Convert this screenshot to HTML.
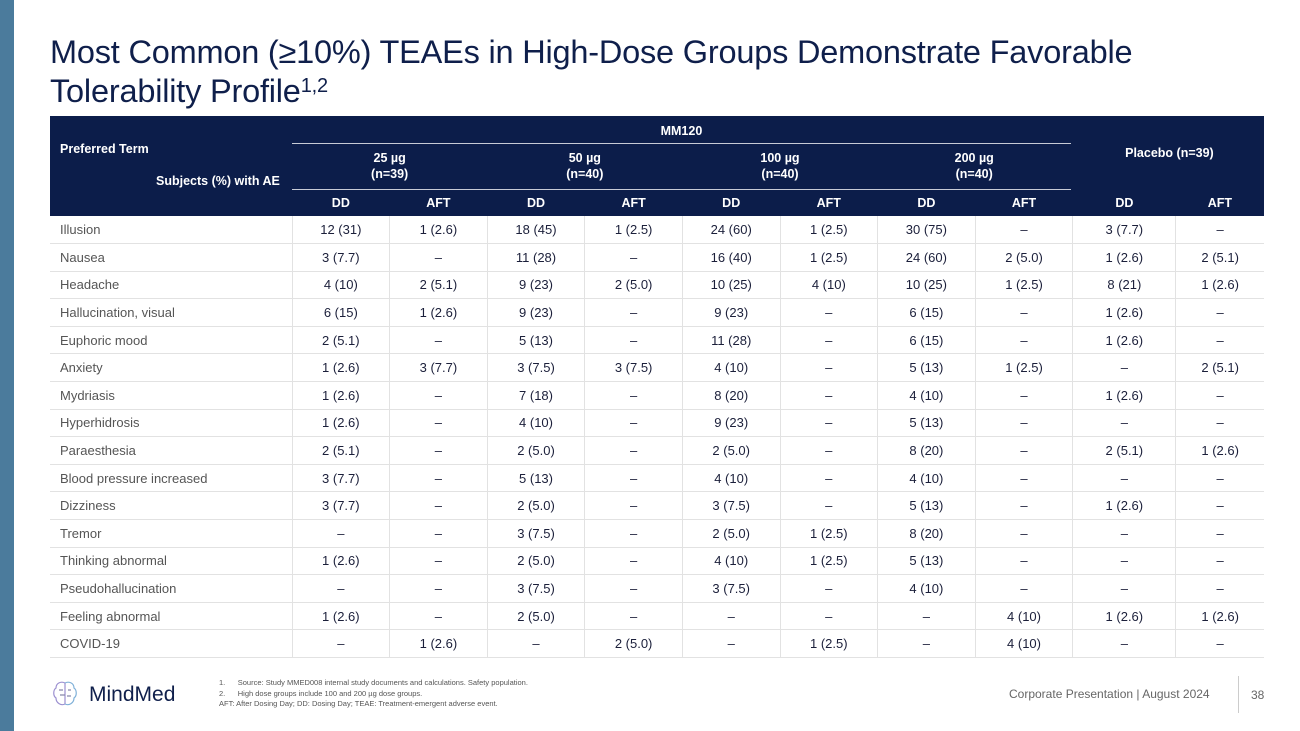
<!DOCTYPE html>
<html><head><meta charset="utf-8"><style>
*{margin:0;padding:0;box-sizing:border-box}
body{width:1300px;height:731px;position:relative;background:#fff;font-family:"Liberation Sans",sans-serif;overflow:hidden}
#bar{position:absolute;left:0;top:0;width:14px;height:731px;background:#4b7b9c}
h1{position:absolute;left:50px;top:33px;font-size:32.5px;font-weight:normal;color:#0f1f4b;line-height:39px;letter-spacing:-0.2px}
h1 sup{font-size:20px;vertical-align:10px;line-height:0}
table{position:absolute;left:50px;top:116px;width:1214px;border-collapse:collapse;table-layout:fixed}
th{background:#0c1d4a;color:#fff;font-size:12.5px;font-weight:bold;text-align:center;padding:0}
td{font-size:13px;color:#1b1f3a;text-align:center;height:27.6px;border-bottom:1.5px solid #e2e2e2;border-left:1px solid #e2e2e2;padding:0}
td:first-child{text-align:left;padding-left:10px;color:#555;border-left:none}
.u{border-bottom:1.5px solid #c8cbd6}
.foot{position:absolute;font-size:7.5px;color:#555;line-height:10.5px}
</style></head><body>
<div id="bar"></div>
<h1>Most Common (≥10%) TEAEs in High-Dose Groups Demonstrate Favorable<br>Tolerability Profile<sup>1,2</sup></h1>
<table>
<colgroup><col style="width:242px"><col style="width:97.6px"><col style="width:97.6px"><col style="width:97.6px"><col style="width:97.6px"><col style="width:97.6px"><col style="width:97.6px"><col style="width:97.6px"><col style="width:97.6px"><col style="width:103px"><col style="width:88px"></colgroup>
<tr style="height:27px"><th rowspan="2" style="text-align:left;padding-left:10px;vertical-align:top;padding-top:26px">Preferred Term<div style="padding-left:96px;margin-top:18px">Subjects (%) with AE</div></th><th colspan="8" class="u" style="border-right:4px solid #0c1d4a;padding-top:3px">MM120</th><th colspan="2" rowspan="2">Placebo (n=39)</th></tr>
<tr style="height:46px"><th colspan="2" class="u" style="line-height:16px">25 µg<br>(n=39)</th><th colspan="2" class="u" style="line-height:16px">50 µg<br>(n=40)</th><th colspan="2" class="u" style="line-height:16px">100 µg<br>(n=40)</th><th colspan="2" class="u" style="line-height:16px;border-right:4px solid #0c1d4a">200 µg<br>(n=40)</th></tr>
<tr style="height:27px"><th></th><th>DD</th><th>AFT</th><th>DD</th><th>AFT</th><th>DD</th><th>AFT</th><th>DD</th><th>AFT</th><th>DD</th><th>AFT</th></tr>
<tr><td>Illusion</td><td>12 (31)</td><td>1 (2.6)</td><td>18 (45)</td><td>1 (2.5)</td><td>24 (60)</td><td>1 (2.5)</td><td>30 (75)</td><td>–</td><td>3 (7.7)</td><td>–</td></tr>
<tr><td>Nausea</td><td>3 (7.7)</td><td>–</td><td>11 (28)</td><td>–</td><td>16 (40)</td><td>1 (2.5)</td><td>24 (60)</td><td>2 (5.0)</td><td>1 (2.6)</td><td>2 (5.1)</td></tr>
<tr><td>Headache</td><td>4 (10)</td><td>2 (5.1)</td><td>9 (23)</td><td>2 (5.0)</td><td>10 (25)</td><td>4 (10)</td><td>10 (25)</td><td>1 (2.5)</td><td>8 (21)</td><td>1 (2.6)</td></tr>
<tr><td>Hallucination, visual</td><td>6 (15)</td><td>1 (2.6)</td><td>9 (23)</td><td>–</td><td>9 (23)</td><td>–</td><td>6 (15)</td><td>–</td><td>1 (2.6)</td><td>–</td></tr>
<tr><td>Euphoric mood</td><td>2 (5.1)</td><td>–</td><td>5 (13)</td><td>–</td><td>11 (28)</td><td>–</td><td>6 (15)</td><td>–</td><td>1 (2.6)</td><td>–</td></tr>
<tr><td>Anxiety</td><td>1 (2.6)</td><td>3 (7.7)</td><td>3 (7.5)</td><td>3 (7.5)</td><td>4 (10)</td><td>–</td><td>5 (13)</td><td>1 (2.5)</td><td>–</td><td>2 (5.1)</td></tr>
<tr><td>Mydriasis</td><td>1 (2.6)</td><td>–</td><td>7 (18)</td><td>–</td><td>8 (20)</td><td>–</td><td>4 (10)</td><td>–</td><td>1 (2.6)</td><td>–</td></tr>
<tr><td>Hyperhidrosis</td><td>1 (2.6)</td><td>–</td><td>4 (10)</td><td>–</td><td>9 (23)</td><td>–</td><td>5 (13)</td><td>–</td><td>–</td><td>–</td></tr>
<tr><td>Paraesthesia</td><td>2 (5.1)</td><td>–</td><td>2 (5.0)</td><td>–</td><td>2 (5.0)</td><td>–</td><td>8 (20)</td><td>–</td><td>2 (5.1)</td><td>1 (2.6)</td></tr>
<tr><td>Blood pressure increased</td><td>3 (7.7)</td><td>–</td><td>5 (13)</td><td>–</td><td>4 (10)</td><td>–</td><td>4 (10)</td><td>–</td><td>–</td><td>–</td></tr>
<tr><td>Dizziness</td><td>3 (7.7)</td><td>–</td><td>2 (5.0)</td><td>–</td><td>3 (7.5)</td><td>–</td><td>5 (13)</td><td>–</td><td>1 (2.6)</td><td>–</td></tr>
<tr><td>Tremor</td><td>–</td><td>–</td><td>3 (7.5)</td><td>–</td><td>2 (5.0)</td><td>1 (2.5)</td><td>8 (20)</td><td>–</td><td>–</td><td>–</td></tr>
<tr><td>Thinking abnormal</td><td>1 (2.6)</td><td>–</td><td>2 (5.0)</td><td>–</td><td>4 (10)</td><td>1 (2.5)</td><td>5 (13)</td><td>–</td><td>–</td><td>–</td></tr>
<tr><td>Pseudohallucination</td><td>–</td><td>–</td><td>3 (7.5)</td><td>–</td><td>3 (7.5)</td><td>–</td><td>4 (10)</td><td>–</td><td>–</td><td>–</td></tr>
<tr><td>Feeling abnormal</td><td>1 (2.6)</td><td>–</td><td>2 (5.0)</td><td>–</td><td>–</td><td>–</td><td>–</td><td>4 (10)</td><td>1 (2.6)</td><td>1 (2.6)</td></tr>
<tr><td>COVID-19</td><td>–</td><td>1 (2.6)</td><td>–</td><td>2 (5.0)</td><td>–</td><td>1 (2.5)</td><td>–</td><td>4 (10)</td><td>–</td><td>–</td></tr>
</table>
<svg style="position:absolute;left:52px;top:680px" width="26" height="28" viewBox="0 0 26 28"><g fill="none" stroke="#9b8fd0" stroke-width="1.2"><path d="M13 3C9 1 4 3 4 8C1 10 1 16 4 18C4 23 9 26 13 24Z"/><path d="M13 3C17 1 22 3 22 8C25 10 25 16 22 18C22 23 17 26 13 24" stroke="#7fb0d8"/><path d="M7 10h4M8 15h5M16 10h3M15 16h4" stroke="#88a"/></g></svg>
<div style="position:absolute;left:89px;top:683px;font-size:21px;color:#0f1f4b">MindMed</div>
<div class="foot" style="left:219px;top:678px">1.&nbsp;&nbsp;&nbsp;&nbsp;&nbsp;&nbsp;Source: Study MMED008 internal study documents and calculations. Safety population.<br>2.&nbsp;&nbsp;&nbsp;&nbsp;&nbsp;&nbsp;High dose groups include 100 and 200 µg dose groups.<br>AFT: After Dosing Day; DD: Dosing Day; TEAE: Treatment-emergent adverse event.</div>
<div style="position:absolute;left:1009px;top:687px;font-size:12px;color:#666">Corporate Presentation | August 2024</div>
<div style="position:absolute;left:1238px;top:676px;width:1px;height:37px;background:#ccc"></div>
<div style="position:absolute;left:1251px;top:688px;font-size:12px;color:#666">38</div>
</body></html>
